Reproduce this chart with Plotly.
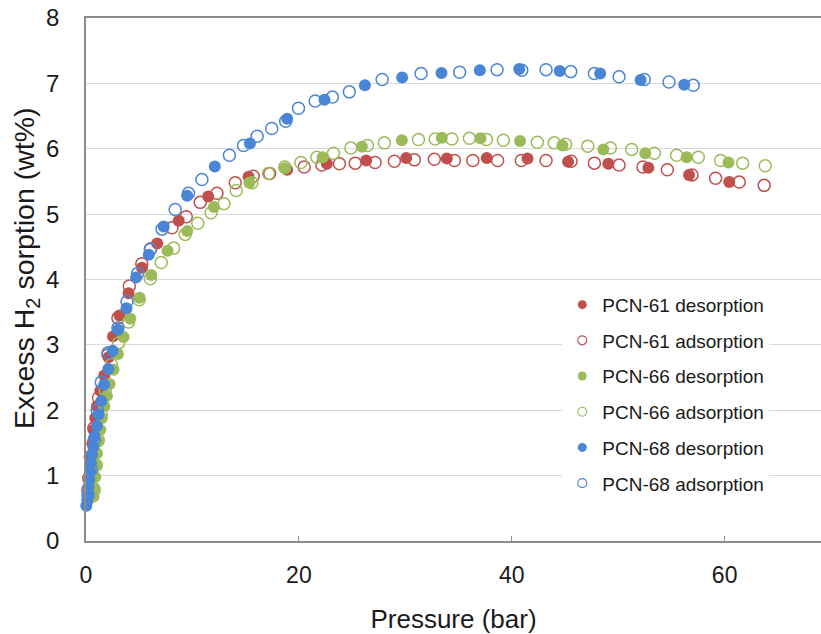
import plotly.graph_objects as go

# ---------------- data (pressure in bar, excess H2 uptake in wt%) ----------------
pcn61_des_p = [60.43, 56.65, 52.83, 49.07, 45.29, 41.48, 37.65, 33.90, 30.08, 26.32, 22.63, 18.90,
               15.27, 11.48, 8.71, 6.69, 5.26, 4.00, 3.15, 2.54, 2.12, 1.72, 1.34, 1.03, 0.87,
               0.71, 0.59, 0.48, 0.38, 0.29, 0.20]
pcn61_des_w = [5.49, 5.60, 5.71, 5.77, 5.80, 5.85, 5.86, 5.85, 5.86, 5.82, 5.77, 5.68,
               5.57, 5.27, 4.90, 4.55, 4.18, 3.79, 3.45, 3.13, 2.81, 2.53, 2.30, 2.06, 1.88,
               1.70, 1.49, 1.27, 1.06, 0.84, 0.63]

pcn61_ads_p = [0.17, 0.26, 0.40, 0.73, 1.18, 2.07, 3.00, 4.07, 5.24, 6.08, 8.08, 9.42, 10.73,
               12.30, 14.02, 15.71, 17.26, 20.50, 22.16, 23.81, 25.29, 27.16, 28.97, 30.85,
               32.72, 34.61, 36.34, 38.67, 40.90, 43.22, 45.57, 47.76, 50.08, 52.33, 54.61,
               56.93, 59.15, 61.37, 63.71]
pcn61_ads_w = [0.78, 0.96, 1.29, 1.73, 2.19, 2.85, 3.41, 3.90, 4.24, 4.47, 4.79, 4.96, 5.18,
               5.32, 5.48, 5.58, 5.62, 5.72, 5.75, 5.77, 5.78, 5.79, 5.81, 5.83,
               5.84, 5.82, 5.82, 5.82, 5.82, 5.82, 5.81, 5.78, 5.75, 5.72, 5.68,
               5.60, 5.55, 5.49, 5.44]

pcn66_des_p = [60.36, 56.43, 52.54, 48.60, 44.75, 40.78, 37.05, 33.43, 29.67, 25.92, 22.23, 18.67,
               15.35, 12.02, 9.51, 7.66, 6.13, 5.03, 4.16, 3.53, 3.00, 2.59, 2.22, 1.97, 1.72,
               1.50, 1.34, 1.18, 1.03, 0.94, 0.87, 0.78, 0.71]
pcn66_des_w = [5.79, 5.87, 5.93, 5.99, 6.05, 6.12, 6.16, 6.17, 6.13, 6.03, 5.87, 5.70,
               5.48, 5.11, 4.74, 4.44, 4.07, 3.72, 3.40, 3.12, 2.86, 2.62, 2.40, 2.22, 2.06,
               1.88, 1.70, 1.52, 1.34, 1.16, 0.98, 0.81, 0.68]

pcn66_ads_p = [0.78, 0.97, 1.15, 1.44, 1.81, 2.38, 3.06, 4.00, 5.00, 6.04, 7.07, 8.24, 9.32,
               10.50, 11.75, 12.96, 14.11, 15.59, 17.15, 18.67, 20.19, 21.69, 23.25, 24.88,
               26.44, 28.03, 31.23, 32.80, 34.37, 36.02, 37.62, 39.21, 42.40, 43.99, 45.05,
               47.14, 49.26, 51.27, 53.39, 55.49, 57.52, 59.62, 61.69, 63.81]
pcn66_ads_w = [0.78, 1.16, 1.55, 1.93, 2.31, 2.70, 3.03, 3.35, 3.69, 4.01, 4.26, 4.48, 4.69,
               4.86, 5.02, 5.16, 5.36, 5.48, 5.62, 5.72, 5.79, 5.87, 5.93, 6.01,
               6.05, 6.09, 6.14, 6.15, 6.15, 6.16, 6.14, 6.13, 6.10, 6.09, 6.07,
               6.04, 6.01, 5.99, 5.93, 5.90, 5.87, 5.82, 5.78, 5.74]

pcn68_des_p = [56.2, 52.1, 48.3, 44.5, 40.7, 37.0, 33.4, 29.7, 26.2, 22.4, 18.9, 15.4, 12.1,
               9.5, 7.3, 5.9, 4.7, 3.8, 3.0, 2.5, 2.1, 1.7, 1.44, 1.18, 1.03, 0.81, 0.69,
               0.56, 0.47, 0.38, 0.31, 0.24, 0.19, 0.12, 0.03]
pcn68_des_w = [6.98, 7.05, 7.15, 7.19, 7.22, 7.20, 7.16, 7.09, 6.97, 6.75, 6.46, 6.08, 5.73,
               5.28, 4.81, 4.38, 4.03, 3.56, 3.23, 2.91, 2.63, 2.39, 2.14, 1.94, 1.76, 1.60,
               1.44, 1.32, 1.19, 1.06, 0.94, 0.83, 0.73, 0.63, 0.54]

pcn68_ads_p = [0.20, 0.50, 0.78, 1.06, 1.44, 2.07, 3.00, 3.85, 4.85, 6.04, 7.14, 8.38, 9.63,
               10.89, 13.47, 14.80, 16.08, 17.45, 18.76, 19.96, 21.53, 23.15, 24.74, 27.82,
               31.48, 35.10, 38.62, 40.94, 43.22, 45.54, 47.76, 50.08, 52.45, 54.77, 57.05]
pcn68_ads_w = [0.70, 1.09, 1.55, 2.00, 2.43, 2.88, 3.26, 3.66, 4.09, 4.46, 4.77, 5.07, 5.32,
               5.53, 5.90, 6.05, 6.19, 6.31, 6.42, 6.62, 6.73, 6.79, 6.87, 7.06,
               7.15, 7.17, 7.21, 7.20, 7.21, 7.18, 7.15, 7.10, 7.06, 7.02, 6.97]

series_names = ["PCN-61 desorption", "PCN-61 adsorption", "PCN-66 desorption",
                "PCN-66 adsorption", "PCN-68 desorption", "PCN-68 adsorption"]
x_ticks = [0, 20, 40, 60]
y_ticks = [0, 1, 2, 3, 4, 5, 6, 7, 8]

RED, GREEN, BLUE = "#C0504D", "#9BBB59", "#4A86D5"
FONT = "Liberation Sans, Arial, sans-serif"

series = [
    (pcn61_des_p, pcn61_des_w, RED, True),
    (pcn61_ads_p, pcn61_ads_w, RED, False),
    (pcn66_des_p, pcn66_des_w, GREEN, True),
    (pcn66_ads_p, pcn66_ads_w, GREEN, False),
    (pcn68_des_p, pcn68_des_w, BLUE, True),
    (pcn68_ads_p, pcn68_ads_w, BLUE, False),
]


def make_marker(col, filled, size, lw):
    if filled:
        return dict(symbol="circle", size=size, color=col, line=dict(width=0))
    return dict(symbol="circle-open", size=size, color=col, line=dict(width=lw, color=col))


fig = go.Figure()
for i, ((px, wy, col, filled), name) in enumerate(zip(series, series_names)):
    fig.add_trace(go.Scatter(x=px, y=wy, mode="markers", name=name,
                             marker=make_marker(col, filled, 12, 1.5),
                             legendgroup=f"g{i}", showlegend=False, cliponaxis=False))
# legend entries with the smaller legend symbols of the reference
for i, ((px, wy, col, filled), name) in enumerate(zip(series, series_names)):
    fig.add_trace(go.Scatter(x=[None], y=[None], mode="markers", name=name,
                             marker=make_marker(col, filled, 9, 1.1),
                             legendgroup=f"g{i}", showlegend=True))

fig.update_layout(
    width=821, height=634,
    margin=dict(l=86, r=0, t=18, b=93),
    paper_bgcolor="white", plot_bgcolor="white",
    font=dict(family=FONT, color="#1a1a1a"),
    showlegend=True,
    legend=dict(x=0.648, y=0.488, xanchor="left", yanchor="top",
                bgcolor="white", borderwidth=0,
                font=dict(size=19, family=FONT, color="#1a1a1a"),
                traceorder="grouped", tracegroupgap=8, itemsizing="trace"),
    xaxis=dict(range=[0, 69.05], tickvals=x_ticks, ticktext=[str(v) for v in x_ticks],
               showgrid=False, zeroline=False,
               showline=True, linecolor="#8c8c8c", linewidth=1.5, mirror=True,
               ticks="inside", ticklen=5, tickcolor="#8c8c8c",
               tickfont=dict(size=23, family=FONT, color="#1a1a1a"),
               ticklabelstandoff=13,
               title=dict(text="Pressure (bar)", font=dict(size=26, family=FONT, color="#1a1a1a"),
                          standoff=22)),
    yaxis=dict(range=[0, 8], tickvals=y_ticks, ticktext=[str(v) for v in y_ticks],
               showgrid=True, gridcolor="#d9d9d9", gridwidth=1, zeroline=False,
               showline=True, linecolor="#8c8c8c", linewidth=1.5,
               ticks="", tickfont=dict(size=24, family=FONT, color="#1a1a1a"),
               ticklabelstandoff=20),
)

fig.add_annotation(text="Excess H<sub>2</sub> sorption (wt%)", textangle=-90,
                   xref="paper", yref="paper", x=(26 - 86) / 735, y=(541 - 268) / 523,
                   xanchor="center", yanchor="middle", showarrow=False,
                   font=dict(size=28.5, family=FONT, color="#1a1a1a"))

fig.write_html("out.html")
